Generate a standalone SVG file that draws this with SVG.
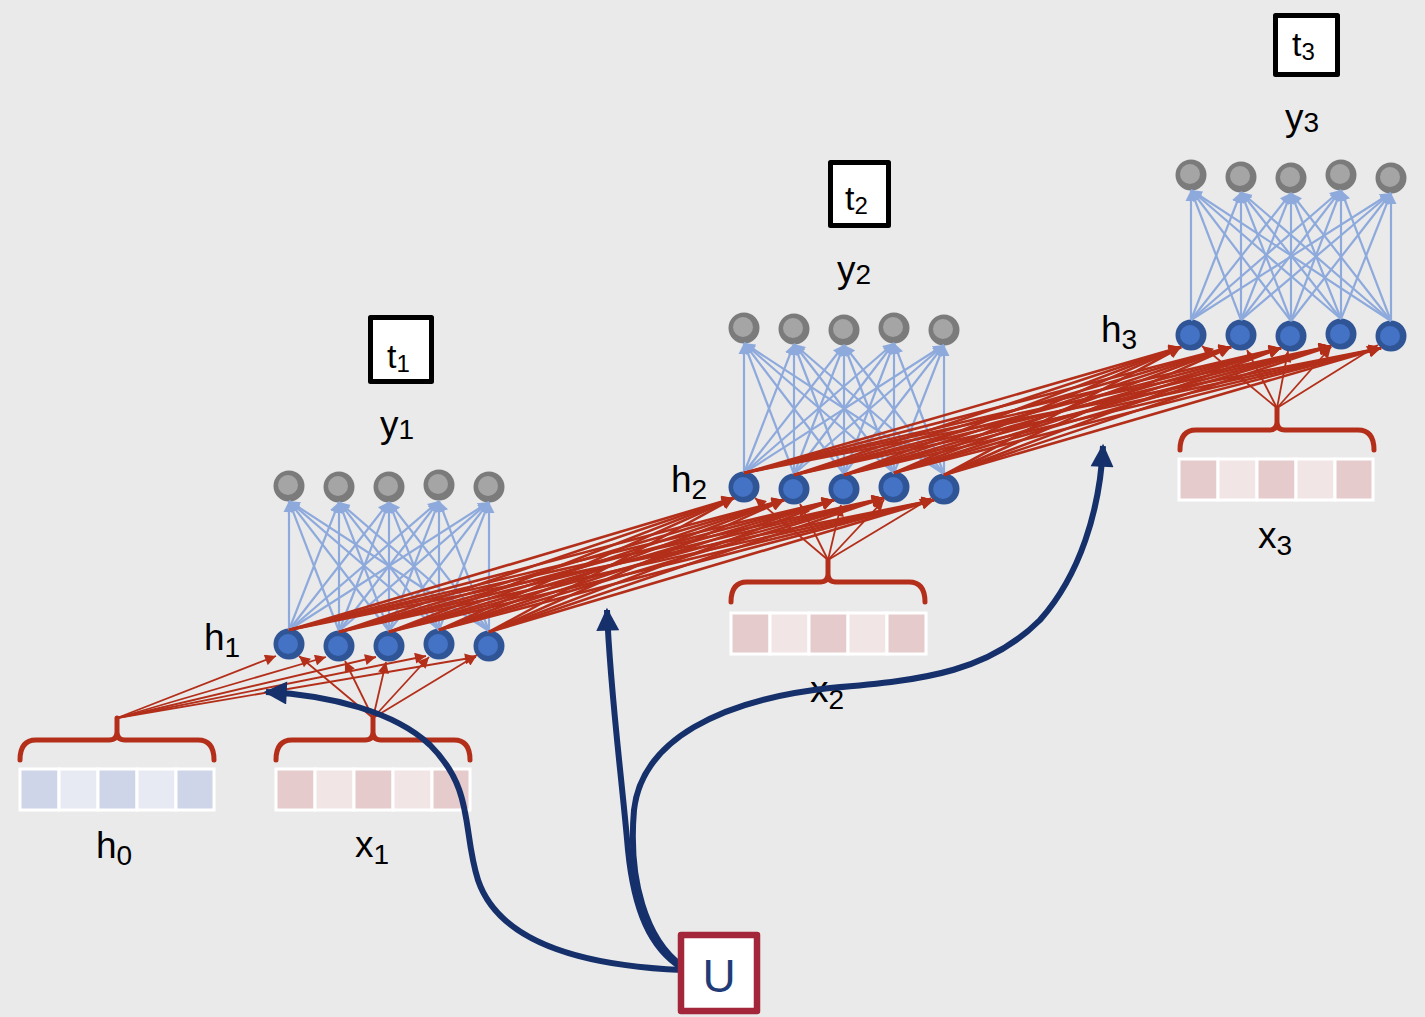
<svg xmlns="http://www.w3.org/2000/svg" width="1425" height="1017" viewBox="0 0 1425 1017">
  <style>
    .lbl { font-family: "Liberation Sans", Arial, sans-serif; font-size: 37px; fill: #000; }
    .sub { font-size: 28px; }
    .tl { font-family: "Liberation Sans", Arial, sans-serif; font-size: 34px; fill: #000; }
    .tsub { font-size: 24px; }
    .tbox { fill: #fff; stroke: #000; stroke-width: 5; stroke-linejoin: round; }
    .ho { fill: #2f5597; }
    .hi { fill: #4472c4; }
    .yo { fill: #7b7b7b; }
    .yi { fill: #a5a5a5; }
    .brace { fill: none; stroke: #b32f1a; stroke-width: 5; stroke-linecap: round; stroke-linejoin: round; }
    .cellB1 { fill: #cfd5e9; stroke: #fff; stroke-width: 3; }
    .cellB2 { fill: #e8eaf3; stroke: #fff; stroke-width: 3; }
    .cellR1 { fill: #e5cbcc; stroke: #fff; stroke-width: 3; }
    .cellR2 { fill: #f1e5e6; stroke: #fff; stroke-width: 3; }
    .fan line { stroke: #8eaadc; stroke-width: 2.2; marker-end: url(#blueHead); }
    .rec line { stroke: #b32f1a; stroke-width: 2.6; marker-end: url(#redHead); }
    .inp line { stroke: #b32f1a; stroke-width: 1.8; marker-end: url(#redHeadThin); }
    .shared { fill: none; stroke: #15306a; stroke-width: 6; marker-end: url(#navyHead); }
  </style>
  <defs>
    <marker id="blueHead" viewBox="0 0 10 10" refX="10" refY="5" markerWidth="11" markerHeight="12" markerUnits="userSpaceOnUse" orient="auto">
      <path d="M0,0 L10,5 L0,10 z" fill="#8eaadc"/>
    </marker>
    <marker id="redHead" viewBox="0 0 10 10" refX="10" refY="5" markerWidth="14" markerHeight="12" markerUnits="userSpaceOnUse" orient="auto">
      <path d="M0,0 L10,5 L0,10 z" fill="#b32f1a"/>
    </marker>
    <marker id="redHeadThin" viewBox="0 0 10 10" refX="10" refY="5" markerWidth="13" markerHeight="11" markerUnits="userSpaceOnUse" orient="auto">
      <path d="M0,0 L10,5 L0,10 z" fill="#b32f1a"/>
    </marker>
    <marker id="navyHead" viewBox="0 0 10 10" refX="9" refY="5" markerWidth="27" markerHeight="23" markerUnits="userSpaceOnUse" orient="auto">
      <path d="M0,0 L10,5 L0,10 z" fill="#15306a"/>
    </marker>
    <!-- curly brace, origin at the left end of its horizontal bar -->
    <path id="braceShape" d="M0,20 Q0,0 16,0 L89,0 Q97,0 97,-8 L97,-22 M97,-8 Q97,0 105,0 L178,0 Q194,0 194,20"/>
  </defs>

  <rect x="0" y="0" width="1425" height="1017" fill="#eaeaea"/>

  <!-- input vectors with their braces -->
  <g id="h0">
    <use href="#braceShape" class="brace" x="20" y="740"/>
    <rect class="cellB1" x="20" y="769" width="39" height="41"/>
    <rect class="cellB2" x="59" y="769" width="39" height="41"/>
    <rect class="cellB1" x="98" y="769" width="39" height="41"/>
    <rect class="cellB2" x="137" y="769" width="39" height="41"/>
    <rect class="cellB1" x="176" y="769" width="38" height="41"/>
    <text class="lbl" x="96" y="858">h<tspan class="sub" dy="7">0</tspan></text>
  </g>
  <g id="x1">
    <use href="#braceShape" class="brace" x="276" y="740"/>
    <rect class="cellR1" x="276" y="769" width="39" height="41"/>
    <rect class="cellR2" x="315" y="769" width="39" height="41"/>
    <rect class="cellR1" x="354" y="769" width="39" height="41"/>
    <rect class="cellR2" x="393" y="769" width="39" height="41"/>
    <rect class="cellR1" x="432" y="769" width="38" height="41"/>
    <text class="lbl" x="355" y="857">x<tspan class="sub" dy="7">1</tspan></text>
  </g>
  <g id="x2">
    <use href="#braceShape" class="brace" x="731" y="582"/>
    <rect class="cellR1" x="731" y="613" width="39" height="41"/>
    <rect class="cellR2" x="770" y="613" width="39" height="41"/>
    <rect class="cellR1" x="809" y="613" width="39" height="41"/>
    <rect class="cellR2" x="848" y="613" width="39" height="41"/>
    <rect class="cellR1" x="887" y="613" width="39" height="41"/>
    <text class="lbl" x="810" y="702">x<tspan class="sub" dy="7">2</tspan></text>
  </g>
  <g id="x3">
    <use href="#braceShape" class="brace" x="1180" y="430"/>
    <rect class="cellR1" x="1179" y="459" width="39" height="41"/>
    <rect class="cellR2" x="1218" y="459" width="39" height="41"/>
    <rect class="cellR1" x="1257" y="459" width="39" height="41"/>
    <rect class="cellR2" x="1296" y="459" width="39" height="41"/>
    <rect class="cellR1" x="1335" y="459" width="38" height="41"/>
    <text class="lbl" x="1258" y="548">x<tspan class="sub" dy="7">3</tspan></text>
  </g>

  <!-- layer labels and time-step boxes -->
  <g id="t1"><rect class="tbox" x="370.5" y="317.5" width="61" height="64"/><text class="tl" x="387" y="368">t<tspan class="tsub" dy="4">1</tspan></text></g>
  <g id="t2"><rect class="tbox" x="830.5" y="162.5" width="58" height="63"/><text class="tl" x="845" y="210">t<tspan class="tsub" dy="4">2</tspan></text></g>
  <g id="t3"><rect class="tbox" x="1275.5" y="15.5" width="62" height="59"/><text class="tl" x="1292" y="56">t<tspan class="tsub" dy="4">3</tspan></text></g>
  <g id="lbl-y1"><text class="lbl" x="380" y="437">y<tspan class="sub" dy="2">1</tspan></text></g>
  <g id="lbl-y2"><text class="lbl" x="837" y="282">y<tspan class="sub" dy="2">2</tspan></text></g>
  <g id="lbl-y3"><text class="lbl" x="1285" y="130">y<tspan class="sub" dy="2">3</tspan></text></g>
  <g id="lbl-h1"><text class="lbl" x="204" y="650">h<tspan class="sub" dy="7">1</tspan></text></g>
  <g id="lbl-h2"><text class="lbl" x="671" y="492">h<tspan class="sub" dy="7">2</tspan></text></g>
  <g id="lbl-h3"><text class="lbl" x="1101" y="342">h<tspan class="sub" dy="7">3</tspan></text></g>

  <!-- output units -->
  <g id="y1-1"><circle class="yo" cx="289" cy="486" r="15.5"/><circle class="yi" cx="288" cy="485" r="10"/></g>
  <g id="y1-2"><circle class="yo" cx="339" cy="487" r="15.5"/><circle class="yi" cx="338" cy="486" r="10"/></g>
  <g id="y1-3"><circle class="yo" cx="389" cy="487" r="15.5"/><circle class="yi" cx="388" cy="486" r="10"/></g>
  <g id="y1-4"><circle class="yo" cx="439" cy="485" r="15.5"/><circle class="yi" cx="438" cy="484" r="10"/></g>
  <g id="y1-5"><circle class="yo" cx="489" cy="487" r="15.5"/><circle class="yi" cx="488" cy="486" r="10"/></g>
  <g id="y2-1"><circle class="yo" cx="744" cy="328" r="15.5"/><circle class="yi" cx="743" cy="327" r="10"/></g>
  <g id="y2-2"><circle class="yo" cx="794" cy="329" r="15.5"/><circle class="yi" cx="793" cy="328" r="10"/></g>
  <g id="y2-3"><circle class="yo" cx="844" cy="330" r="15.5"/><circle class="yi" cx="843" cy="329" r="10"/></g>
  <g id="y2-4"><circle class="yo" cx="894" cy="328" r="15.5"/><circle class="yi" cx="893" cy="327" r="10"/></g>
  <g id="y2-5"><circle class="yo" cx="944" cy="330" r="15.5"/><circle class="yi" cx="943" cy="329" r="10"/></g>
  <g id="y3-1"><circle class="yo" cx="1191" cy="175" r="15.5"/><circle class="yi" cx="1190" cy="174" r="10"/></g>
  <g id="y3-2"><circle class="yo" cx="1241" cy="177" r="15.5"/><circle class="yi" cx="1240" cy="176" r="10"/></g>
  <g id="y3-3"><circle class="yo" cx="1291" cy="178" r="15.5"/><circle class="yi" cx="1290" cy="177" r="10"/></g>
  <g id="y3-4"><circle class="yo" cx="1341" cy="175" r="15.5"/><circle class="yi" cx="1340" cy="174" r="10"/></g>
  <g id="y3-5"><circle class="yo" cx="1391" cy="178" r="15.5"/><circle class="yi" cx="1390" cy="177" r="10"/></g>

  <!-- hidden units -->
  <g id="h1-1"><circle class="ho" cx="289" cy="644" r="15.5"/><circle class="hi" cx="288" cy="644" r="10"/></g>
  <g id="h1-2"><circle class="ho" cx="339" cy="646" r="15.5"/><circle class="hi" cx="338" cy="646" r="10"/></g>
  <g id="h1-3"><circle class="ho" cx="389" cy="646" r="15.5"/><circle class="hi" cx="388" cy="646" r="10"/></g>
  <g id="h1-4"><circle class="ho" cx="439" cy="644" r="15.5"/><circle class="hi" cx="438" cy="644" r="10"/></g>
  <g id="h1-5"><circle class="ho" cx="489" cy="646" r="15.5"/><circle class="hi" cx="488" cy="646" r="10"/></g>
  <g id="h2-1"><circle class="ho" cx="744" cy="487" r="15.5"/><circle class="hi" cx="743" cy="487" r="10"/></g>
  <g id="h2-2"><circle class="ho" cx="794" cy="489" r="15.5"/><circle class="hi" cx="793" cy="489" r="10"/></g>
  <g id="h2-3"><circle class="ho" cx="844" cy="489" r="15.5"/><circle class="hi" cx="843" cy="489" r="10"/></g>
  <g id="h2-4"><circle class="ho" cx="894" cy="487" r="15.5"/><circle class="hi" cx="893" cy="487" r="10"/></g>
  <g id="h2-5"><circle class="ho" cx="944" cy="489" r="15.5"/><circle class="hi" cx="943" cy="489" r="10"/></g>
  <g id="h3-1"><circle class="ho" cx="1191" cy="335" r="15.5"/><circle class="hi" cx="1190" cy="335" r="10"/></g>
  <g id="h3-2"><circle class="ho" cx="1241" cy="335" r="15.5"/><circle class="hi" cx="1240" cy="335" r="10"/></g>
  <g id="h3-3"><circle class="ho" cx="1291" cy="336" r="15.5"/><circle class="hi" cx="1290" cy="336" r="10"/></g>
  <g id="h3-4"><circle class="ho" cx="1341" cy="334" r="15.5"/><circle class="hi" cx="1340" cy="334" r="10"/></g>
  <g id="h3-5"><circle class="ho" cx="1391" cy="336" r="15.5"/><circle class="hi" cx="1390" cy="336" r="10"/></g>

  <g id="connectors">
    <!-- hidden to output, step 1 -->
    <g class="fan">
      <line x1="289" y1="630" x2="289" y2="501"/><line x1="289" y1="630" x2="339" y2="502"/><line x1="289" y1="630" x2="389" y2="502"/><line x1="289" y1="630" x2="439" y2="501"/><line x1="289" y1="630" x2="489" y2="502"/>
      <line x1="339" y1="631" x2="289" y2="501"/><line x1="339" y1="631" x2="339" y2="502"/><line x1="339" y1="631" x2="389" y2="502"/><line x1="339" y1="631" x2="439" y2="501"/><line x1="339" y1="631" x2="489" y2="502"/>
      <line x1="389" y1="631" x2="289" y2="501"/><line x1="389" y1="631" x2="339" y2="502"/><line x1="389" y1="631" x2="389" y2="502"/><line x1="389" y1="631" x2="439" y2="501"/><line x1="389" y1="631" x2="489" y2="502"/>
      <line x1="439" y1="630" x2="289" y2="501"/><line x1="439" y1="630" x2="339" y2="502"/><line x1="439" y1="630" x2="389" y2="502"/><line x1="439" y1="630" x2="439" y2="501"/><line x1="439" y1="630" x2="489" y2="502"/>
      <line x1="489" y1="631" x2="289" y2="501"/><line x1="489" y1="631" x2="339" y2="502"/><line x1="489" y1="631" x2="389" y2="502"/><line x1="489" y1="631" x2="439" y2="501"/><line x1="489" y1="631" x2="489" y2="502"/>
    </g>
    <!-- hidden to output, step 2 -->
    <g class="fan">
      <line x1="744" y1="473" x2="744" y2="343"/><line x1="744" y1="473" x2="794" y2="344"/><line x1="744" y1="473" x2="844" y2="345"/><line x1="744" y1="473" x2="894" y2="343"/><line x1="744" y1="473" x2="944" y2="345"/>
      <line x1="794" y1="474" x2="744" y2="343"/><line x1="794" y1="474" x2="794" y2="344"/><line x1="794" y1="474" x2="844" y2="345"/><line x1="794" y1="474" x2="894" y2="343"/><line x1="794" y1="474" x2="944" y2="345"/>
      <line x1="844" y1="474" x2="744" y2="343"/><line x1="844" y1="474" x2="794" y2="344"/><line x1="844" y1="474" x2="844" y2="345"/><line x1="844" y1="474" x2="894" y2="343"/><line x1="844" y1="474" x2="944" y2="345"/>
      <line x1="894" y1="473" x2="744" y2="343"/><line x1="894" y1="473" x2="794" y2="344"/><line x1="894" y1="473" x2="844" y2="345"/><line x1="894" y1="473" x2="894" y2="343"/><line x1="894" y1="473" x2="944" y2="345"/>
      <line x1="944" y1="474" x2="744" y2="343"/><line x1="944" y1="474" x2="794" y2="344"/><line x1="944" y1="474" x2="844" y2="345"/><line x1="944" y1="474" x2="894" y2="343"/><line x1="944" y1="474" x2="944" y2="345"/>
    </g>
    <!-- hidden to output, step 3 -->
    <g class="fan">
      <line x1="1191" y1="320" x2="1191" y2="190"/><line x1="1191" y1="320" x2="1241" y2="192"/><line x1="1191" y1="320" x2="1291" y2="193"/><line x1="1191" y1="320" x2="1341" y2="190"/><line x1="1191" y1="320" x2="1391" y2="193"/>
      <line x1="1241" y1="320" x2="1191" y2="190"/><line x1="1241" y1="320" x2="1241" y2="192"/><line x1="1241" y1="320" x2="1291" y2="193"/><line x1="1241" y1="320" x2="1341" y2="190"/><line x1="1241" y1="320" x2="1391" y2="193"/>
      <line x1="1291" y1="321" x2="1191" y2="190"/><line x1="1291" y1="321" x2="1241" y2="192"/><line x1="1291" y1="321" x2="1291" y2="193"/><line x1="1291" y1="321" x2="1341" y2="190"/><line x1="1291" y1="321" x2="1391" y2="193"/>
      <line x1="1341" y1="319" x2="1191" y2="190"/><line x1="1341" y1="319" x2="1241" y2="192"/><line x1="1341" y1="319" x2="1291" y2="193"/><line x1="1341" y1="319" x2="1341" y2="190"/><line x1="1341" y1="319" x2="1391" y2="193"/>
      <line x1="1391" y1="321" x2="1191" y2="190"/><line x1="1391" y1="321" x2="1241" y2="192"/><line x1="1391" y1="321" x2="1291" y2="193"/><line x1="1391" y1="321" x2="1341" y2="190"/><line x1="1391" y1="321" x2="1391" y2="193"/>
    </g>

    <!-- inputs into h1 -->
    <g class="inp">
      <line x1="117" y1="718" x2="276" y2="656"/><line x1="117" y1="718" x2="326" y2="657"/><line x1="117" y1="718" x2="376" y2="657"/><line x1="117" y1="718" x2="426" y2="656"/><line x1="117" y1="718" x2="476" y2="657"/>
      <line x1="373" y1="718" x2="299" y2="656"/><line x1="373" y1="718" x2="345" y2="661"/><line x1="373" y1="718" x2="386" y2="662"/><line x1="373" y1="718" x2="429" y2="657"/><line x1="373" y1="718" x2="477" y2="655"/>
    </g>
    <!-- inputs into h2 and h3 -->
    <g class="inp">
      <line x1="828" y1="560" x2="755" y2="498"/><line x1="828" y1="560" x2="800" y2="504"/><line x1="828" y1="560" x2="841" y2="505"/><line x1="828" y1="560" x2="884" y2="500"/><line x1="828" y1="560" x2="931" y2="498"/>
      <line x1="1277" y1="408" x2="1202" y2="346"/><line x1="1277" y1="408" x2="1247" y2="350"/><line x1="1277" y1="408" x2="1288" y2="351"/><line x1="1277" y1="408" x2="1331" y2="347"/><line x1="1277" y1="408" x2="1378" y2="345"/>
    </g>

    <!-- recurrent weights h1 to h2 -->
    <g class="rec">
      <line x1="289" y1="630" x2="734" y2="498"/><line x1="289" y1="630" x2="784" y2="500"/><line x1="289" y1="630" x2="834" y2="500"/><line x1="289" y1="630" x2="884" y2="498"/><line x1="289" y1="630" x2="934" y2="500"/>
      <line x1="339" y1="632" x2="734" y2="498"/><line x1="339" y1="632" x2="784" y2="500"/><line x1="339" y1="632" x2="834" y2="500"/><line x1="339" y1="632" x2="884" y2="498"/><line x1="339" y1="632" x2="934" y2="500"/>
      <line x1="389" y1="632" x2="734" y2="498"/><line x1="389" y1="632" x2="784" y2="500"/><line x1="389" y1="632" x2="834" y2="500"/><line x1="389" y1="632" x2="884" y2="498"/><line x1="389" y1="632" x2="934" y2="500"/>
      <line x1="439" y1="630" x2="734" y2="498"/><line x1="439" y1="630" x2="784" y2="500"/><line x1="439" y1="630" x2="834" y2="500"/><line x1="439" y1="630" x2="884" y2="498"/><line x1="439" y1="630" x2="934" y2="500"/>
      <line x1="489" y1="632" x2="734" y2="498"/><line x1="489" y1="632" x2="784" y2="500"/><line x1="489" y1="632" x2="834" y2="500"/><line x1="489" y1="632" x2="884" y2="498"/><line x1="489" y1="632" x2="934" y2="500"/>
    </g>
    <!-- recurrent weights h2 to h3 -->
    <g class="rec">
      <line x1="744" y1="473" x2="1181" y2="347"/><line x1="744" y1="473" x2="1231" y2="347"/><line x1="744" y1="473" x2="1281" y2="348"/><line x1="744" y1="473" x2="1331" y2="346"/><line x1="744" y1="473" x2="1381" y2="348"/>
      <line x1="794" y1="475" x2="1181" y2="347"/><line x1="794" y1="475" x2="1231" y2="347"/><line x1="794" y1="475" x2="1281" y2="348"/><line x1="794" y1="475" x2="1331" y2="346"/><line x1="794" y1="475" x2="1381" y2="348"/>
      <line x1="844" y1="475" x2="1181" y2="347"/><line x1="844" y1="475" x2="1231" y2="347"/><line x1="844" y1="475" x2="1281" y2="348"/><line x1="844" y1="475" x2="1331" y2="346"/><line x1="844" y1="475" x2="1381" y2="348"/>
      <line x1="894" y1="473" x2="1181" y2="347"/><line x1="894" y1="473" x2="1231" y2="347"/><line x1="894" y1="473" x2="1281" y2="348"/><line x1="894" y1="473" x2="1331" y2="346"/><line x1="894" y1="473" x2="1381" y2="348"/>
      <line x1="944" y1="475" x2="1181" y2="347"/><line x1="944" y1="475" x2="1231" y2="347"/><line x1="944" y1="475" x2="1281" y2="348"/><line x1="944" y1="475" x2="1331" y2="346"/><line x1="944" y1="475" x2="1381" y2="348"/>
    </g>

    <!-- shared weight matrix U applied at every step -->
    <path class="shared" d="M682,970 C590,966 500,945 478,880 C462,830 475,790 430,745 C395,712 330,695 266,692"/>
    <path class="shared" d="M682,968 C650,948 634,910 628,850 C621,770 610,690 607,610"/>
    <path class="shared" d="M682,966 C646,940 628,880 634,810 C642,740 720,700 830,688 C930,680 990,670 1040,620 C1080,575 1100,510 1103,446"/>
  </g>

  <g id="U">
    <rect x="681" y="935" width="76" height="76" fill="#fff" stroke="#a3263a" stroke-width="6.5" stroke-linejoin="round"/>
    <text x="719" y="992" text-anchor="middle" font-family="Liberation Sans, Arial, sans-serif" font-size="46" fill="#1f3c78">U</text>
  </g>
</svg>
